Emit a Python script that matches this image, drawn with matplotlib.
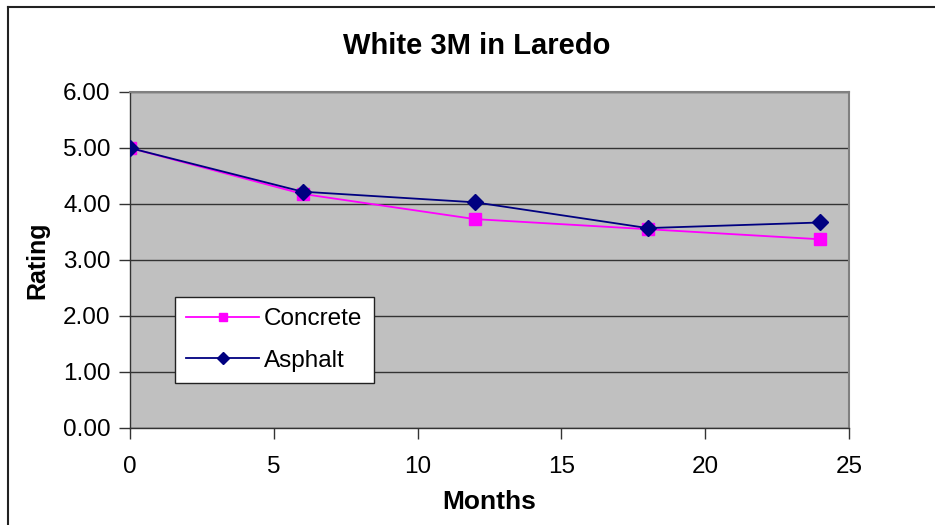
import matplotlib
matplotlib.use("Agg")
import matplotlib.pyplot as plt
from matplotlib.lines import Line2D
from matplotlib.ticker import FormatStrFormatter

plt.rcParams['font.family'] = ['Liberation Sans', 'DejaVu Sans']

months = [0, 6, 12, 18, 24]
concrete = [5.00, 4.18, 3.73, 3.55, 3.37]
asphalt = [5.00, 4.22, 4.03, 3.57, 3.67]
x_ticks = [0, 5, 10, 15, 20, 25]
y_ticks = [0, 1, 2, 3, 4, 5, 6]

fig = plt.figure(figsize=(9.35, 5.25), dpi=100)
ax = fig.add_axes([130 / 935, 1 - 428 / 525, 719 / 935, 336 / 525])
ax.set_facecolor('#C0C0C0')

# outer chart frame (only top and left visible)
fig.add_artist(Line2D([8 / 935, 8 / 935], [0, 1 - 7 / 525], transform=fig.transFigure,
                      color='#222222', lw=1.5))
fig.add_artist(Line2D([8 / 935, 1], [1 - 7 / 525, 1 - 7 / 525], transform=fig.transFigure,
                      color='#222222', lw=1.5))

ax.plot(months, concrete, color='#FF00FF', marker='s', markersize=8, lw=1.3,
        label='Concrete', zorder=3)
ax.plot(months, asphalt, color='#000080', marker='D', markersize=8, lw=1.3,
        label='Asphalt', zorder=4)

ax.set_xlim(0, 25)
ax.set_ylim(0, 6)
ax.set_xticks(x_ticks)
ax.set_yticks(y_ticks)
ax.yaxis.set_major_formatter(FormatStrFormatter('%.2f'))
ax.grid(axis='y', color='#333333', lw=1)
ax.set_axisbelow(True)

for s in ['top', 'right']:
    ax.spines[s].set_color('#808080')
    ax.spines[s].set_linewidth(1.5)
for s in ['left', 'bottom']:
    ax.spines[s].set_color('#333333')
    ax.spines[s].set_linewidth(1)

ax.tick_params(direction='out', length=8, width=1, labelsize=17.5, color='#333333')
ax.tick_params(axis='x', pad=12)
ax.tick_params(axis='y', pad=6)

# title centred on the chart area, not on the plot area
fig.text(477 / 935, 1 - 46 / 525, 'White 3M in Laredo', fontsize=21, fontweight='bold',
         ha='center', va='center')
ax.set_xlabel('Months', fontsize=19, fontweight='bold', labelpad=9)
ax.set_ylabel('Rating', fontsize=18, fontweight='bold', labelpad=10)

leg = ax.legend(loc='lower left', bbox_to_anchor=(45 / 719, 45 / 336), fontsize=17.5,
                frameon=True, fancybox=False, edgecolor='#222222', framealpha=1,
                handlelength=3.0, borderpad=0.46, labelspacing=0.8, handletextpad=0.2,
                borderaxespad=0, markerscale=0.75)
leg.get_frame().set_linewidth(1)

fig.savefig('out.png', dpi=100)
